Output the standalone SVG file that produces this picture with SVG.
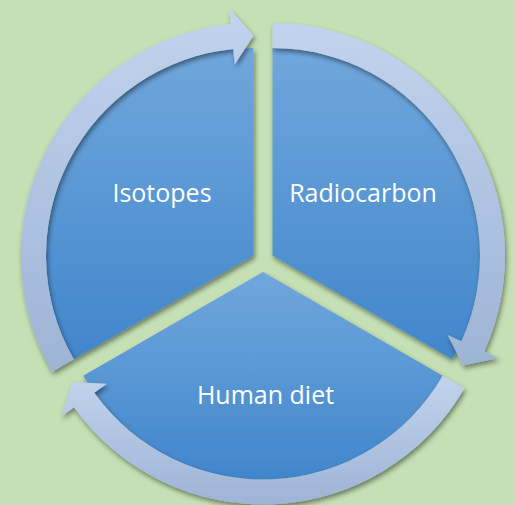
<svg xmlns="http://www.w3.org/2000/svg" width="515" height="505" viewBox="0 0 515 505">
<defs>
<linearGradient id="segGrad" x1="0" y1="0" x2="0" y2="1">
<stop offset="0" stop-color="#70a7dc"/>
<stop offset="1" stop-color="#4186cb"/>
</linearGradient>
<linearGradient id="arrGrad" x1="0" y1="0" x2="0" y2="1">
<stop offset="0" stop-color="#c1d3ee"/>
<stop offset="1" stop-color="#9eb4d5"/>
</linearGradient>
<filter id="shadow" x="-20%" y="-20%" width="140%" height="140%">
<feDropShadow dx="1.5" dy="3" stdDeviation="2.5" flood-color="#000" flood-opacity="0.45"/>
</filter>
</defs>
<style>
.seg { fill: url(#segGrad); filter: url(#shadow); }
.arr { fill: url(#arrGrad); filter: url(#shadow); }
.lbl { font-family: "Open Sans", "Liberation Sans", sans-serif; font-size: 25px; fill: #ffffff; text-anchor: middle; }
</style>
<rect x="0" y="0" width="515" height="505" fill="#c5e0b4"/>
<g id="isotopes">
<path class="seg" d="M253.5,255.5 L73.8,359.25 A207.5,207.5 0 0 1 253.5,48 Z"/>
<text class="lbl" x="162" y="202">Isotopes</text>
</g>
<g id="radiocarbon">
<path class="seg" d="M272.5,255.5 L272.5,48 A207.5,207.5 0 0 1 452.2,359.25 Z"/>
<text class="lbl" x="363" y="202">Radiocarbon</text>
</g>
<g id="human-diet">
<path class="seg" d="M263,272 L442.7,375.75 A207.5,207.5 0 0 1 83.3,375.75 Z"/>
<text class="lbl" x="265.5" y="404">Human diet</text>
</g>
<g id="connectors">
<path class="arr" d="M52.15,371.75 A232.5,232.5 0 0 1 230.81,24.11 L229.3,8.68 L253.5,35.5 L234.76,64.42 L233.25,48.99 A207.5,207.5 0 0 0 73.8,359.25 Z"/>
<path class="arr" d="M272.5,23 A232.5,232.5 0 0 1 484.23,351.55 L498.35,357.95 L463.03,365.5 L447.35,334.82 L461.47,341.22 A207.5,207.5 0 0 0 272.5,48 Z"/>
<path class="arr" d="M464.35,388.25 A232.5,232.5 0 0 1 73.95,407.34 L61.35,416.37 L72.47,382 L106.88,383.77 L94.28,392.79 A207.5,207.5 0 0 0 442.7,375.75 Z"/>
</g>
</svg>
